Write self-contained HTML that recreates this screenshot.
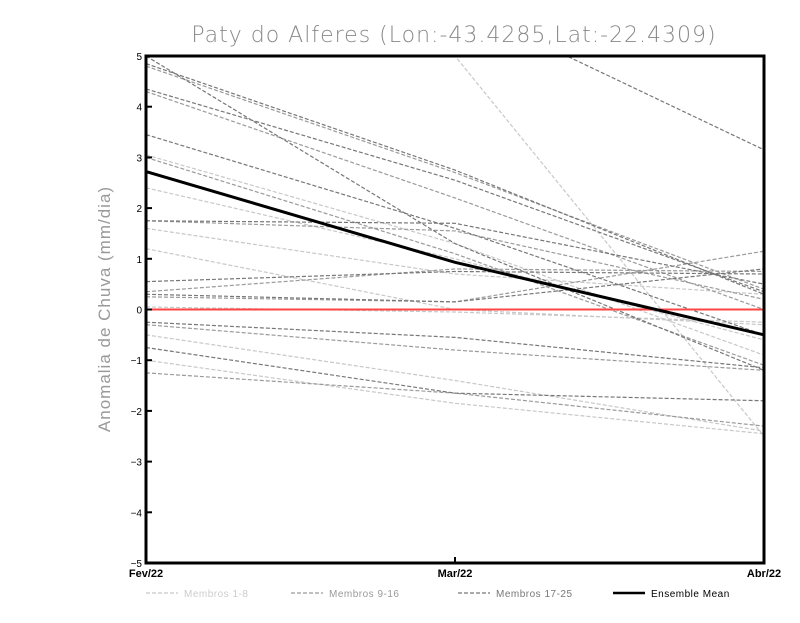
<!DOCTYPE html>
<html><head><meta charset="utf-8"><style>
body{margin:0;background:#fff;width:800px;height:618px;overflow:hidden;font-family:"Liberation Sans",sans-serif}
</style></head><body>
<svg id="chart" width="800" height="618" xmlns="http://www.w3.org/2000/svg">
<text x="454" y="42" text-anchor="middle" font-size="22" fill="#888" font-family="DejaVu Sans, sans-serif" font-weight="200" letter-spacing="1">Paty do Alferes (Lon:-43.4285,Lat:-22.4309)</text>
<text transform="translate(110,309) rotate(-90)" text-anchor="middle" font-size="17" fill="#999" letter-spacing="1">Anomalia de Chuva (mm/dia)</text>
<defs><clipPath id="pc"><rect x="146" y="56" width="618" height="507"/></clipPath></defs>
<g id="series" clip-path="url(#pc)"></g>
<g id="axes"></g>
<g id="legend"></g>
</svg>
<script>
const categories=["Fev/22","Mar/22","Abr/22"];
const yTicks=[-5,-4,-3,-2,-1,0,1,2,3,4,5];
const light=[[8,5.0,-2.5],[3.05,1.3,-0.9],[2.4,1.0,-0.6],[1.6,0.7,0.3],[1.2,0.0,-0.3],[0.05,-0.05,-0.25],[-0.5,-1.4,-2.4],[-1.0,-1.85,-2.45]];
const mid=[[4.8,2.7,0.4],[4.3,2.2,0.0],[0.35,0.8,0.75],[0.25,0.15,1.15],[-0.3,-0.8,-1.2],[-1.25,-1.65,-2.3],[1.75,1.55,0.2],[3.0,1.1,-1.1]];
const dark=[[8,6.05,3.15],[4.85,2.75,0.3],[5.0,1.3,-1.2],[4.35,2.55,0.35],[3.45,1.6,-0.5],[1.75,1.7,0.5],[0.55,0.75,0.7],[0.3,0.15,0.8],[-0.25,-0.55,-1.15],[-0.75,-1.65,-1.8]];
const mean=[2.72,0.93,-0.5];
const NS="http://www.w3.org/2000/svg";
const X0=146,X1=764,Y0=563,Y1=56;
const xs=i=>X0+(X1-X0)*i/(categories.length-1);
const ys=v=>Y0-(v+5)/10*(Y0-Y1);
function mk(t,a,p){const e=document.createElementNS(NS,t);for(const k in a)e.setAttribute(k,a[k]);p.appendChild(e);return e;}
const S=document.getElementById('series');
function line(vals,col,w,dash,name){const e=mk('polyline',{points:vals.map((v,i)=>xs(i)+','+ys(v)).join(' '),fill:'none',stroke:col,'stroke-width':w,'stroke-dasharray':dash},S);

}
light.forEach((s,i)=>line(s,'#c8c8c8',1.2,'4,2','member-light-'+(i+1)));
mid.forEach((s,i)=>line(s,'#9a9a9a',1.2,'4,2','member-mid-'+(i+1)));
dark.forEach((s,i)=>line(s,'#777',1.2,'4,2','member-dark-'+(i+1)));
const z=mk('line',{x1:X0,x2:X1,y1:ys(0),y2:ys(0),stroke:'#f44',"stroke-width":2},S);


line(mean,'#000',3,'none','ensemble-mean-line');
const A=document.getElementById('axes');
const fr=mk('rect',{x:X0,y:Y1,width:X1-X0,height:Y0-Y1,fill:'none',stroke:'#000','stroke-width':3},A);


yTicks.forEach(v=>{mk('line',{x1:X0,x2:X0+6,y1:ys(v),y2:ys(v),stroke:'#000','stroke-width':2},A);
const t=mk('text',{x:X0-4,y:ys(v)+4,'text-anchor':'end','font-size':10,fill:'#000'},A);t.textContent=(v<0?'\u2212':'')+Math.abs(v);

});
categories.forEach((c,i)=>{mk('line',{x1:xs(i),x2:xs(i),y1:Y0,y2:Y0-6,stroke:'#000','stroke-width':2},A);
const t=mk('text',{x:xs(i),y:Y0+14,'text-anchor':'middle','font-size':11,'font-weight':'bold',fill:'#000'},A);t.textContent=c;

});
const L=document.getElementById('legend');
[['Membros 1-8','#c8c8c8','4,2',1.2,'#ccc'],['Membros 9-16','#9a9a9a','4,2',1.2,'#999'],['Membros 17-25','#777','4,2',1.2,'#777'],['Ensemble Mean','#000','none',2.5,'#000']].forEach((d,i)=>{
const x=[146,291,458,613][i];
const g=mk('g',{},L);


mk('line',{x1:x,x2:x+32,y1:593,y2:593,stroke:d[1],'stroke-width':d[3],'stroke-dasharray':d[2]},g);
const t=mk('text',{x:x+38,y:597,'font-size':10,fill:d[4],'letter-spacing':'0.5'},g);t.textContent=d[0];});
</script>
</body></html>
